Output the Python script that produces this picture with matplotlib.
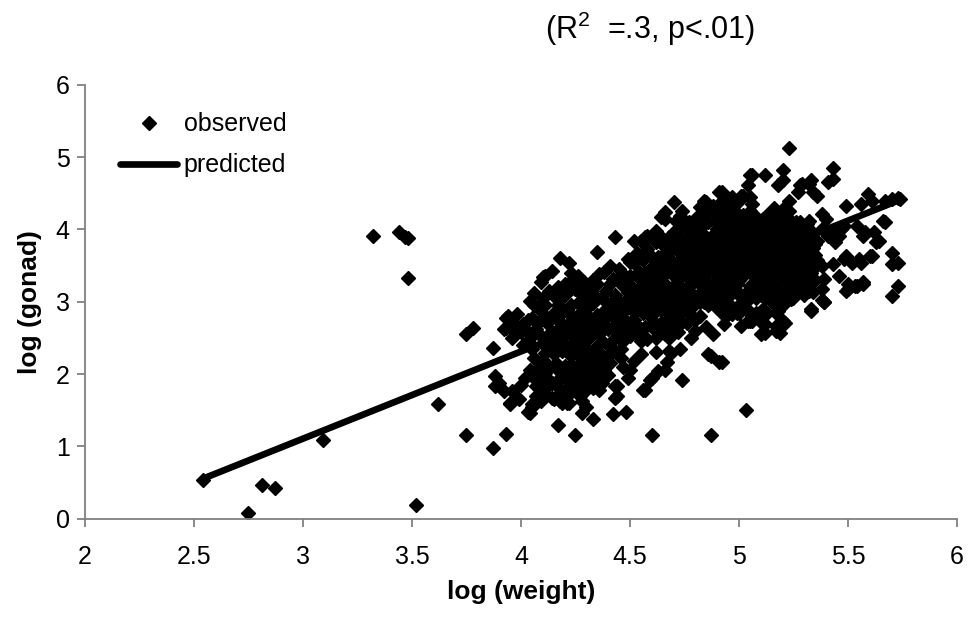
import matplotlib
matplotlib.use("Agg")
import matplotlib.pyplot as plt
import numpy as np

plt.rcParams['font.family'] = ['Liberation Sans', 'DejaVu Sans']
plt.rcParams['mathtext.fontset'] = 'custom'
plt.rcParams['mathtext.rm'] = 'Liberation Sans'

# isolated points (log weight, log gonad)
outliers = [
    (2.54, 0.53), (2.75, 0.08), (2.81, 0.47), (2.87, 0.42), (3.09, 1.09),
    (3.32, 3.91), (3.44, 3.97), (3.47, 3.90), (3.48, 3.88), (3.48, 3.33),
    (3.52, 0.19), (3.62, 1.58), (3.75, 1.16), (3.87, 0.97), (3.93, 1.17),
    (4.17, 1.30), (4.25, 1.16), (4.60, 1.16), (4.87, 1.16), (5.03, 1.50),
    (5.23, 5.13), (5.43, 4.85), (3.75, 2.56), (3.78, 2.63), (3.87, 2.36),
]

# lower band, x 3.9 - 4.9, y 1.4 - 2.4
lower_band = [
    (3.88, 1.97), (3.90, 1.87), (3.92, 1.76), (3.88, 1.84), (3.96, 1.76),
    (3.99, 1.65), (3.95, 1.60), (3.95, 1.58), (4.04, 1.46), (4.05, 1.58),
    (4.04, 2.05), (4.09, 1.92), (4.07, 1.83), (4.07, 1.69), (4.03, 1.48),
    (4.05, 1.55), (4.14, 1.67), (4.19, 1.60), (4.15, 1.65), (4.21, 1.60),
    (4.18, 1.74), (4.17, 2.06), (4.21, 1.92), (4.20, 1.78), (4.26, 1.99),
    (4.31, 1.88), (4.34, 1.97), (4.29, 2.20), (4.32, 2.29), (4.34, 2.18),
    (4.30, 2.32), (4.33, 1.81), (4.35, 1.90), (4.29, 1.92), (4.25, 1.95),
    (4.44, 1.69), (4.44, 1.84), (4.49, 1.95), (4.57, 1.78), (4.60, 1.95),
    (4.63, 2.04), (4.67, 2.16), (4.69, 2.29), (4.73, 2.34), (4.74, 1.92),
    (4.52, 2.18), (4.43, 2.32), (4.34, 2.36), (4.87, 2.25), (4.92, 2.16),
    (4.42, 1.44), (4.48, 1.47), (4.33, 1.38), (4.28, 1.46), (4.43, 1.83),
    (4.43, 1.67), (4.56, 1.78), (4.59, 1.92), (4.66, 2.06), (4.68, 2.32),
    (4.86, 2.27), (4.91, 2.16), (4.33, 1.92), (4.36, 1.78), (4.27, 1.88),
    (4.20, 2.11), (4.22, 1.60), (4.30, 1.55), (4.10, 2.20), (4.13, 2.10),
    (4.23, 2.25), (4.26, 2.12), (4.12, 1.95), (4.16, 1.85), (4.24, 1.80),
    (4.10, 1.75), (4.38, 2.05), (4.40, 2.25), (4.47, 2.10), (4.55, 2.28),
    (4.62, 2.30), (4.00, 1.85), (4.02, 1.95), (4.19, 2.32), (4.28, 2.38),
    (4.08, 2.08), (4.15, 2.28), (4.22, 2.05), (4.27, 1.70), (4.37, 2.15),
    (4.12, 1.82), (4.18, 1.95), (4.24, 2.35), (4.06, 1.95), (4.30, 2.05),
    (4.06, 2.22), (4.09, 1.62), (4.11, 2.02), (4.14, 1.88), (4.16, 2.15),
    (4.18, 1.62), (4.20, 1.98), (4.22, 1.72), (4.23, 2.12), (4.25, 1.85),
    (4.27, 2.25), (4.28, 1.62), (4.30, 1.78), (4.32, 2.12), (4.35, 2.05),
    (4.37, 1.88), (4.40, 1.98), (4.41, 2.15), (4.46, 2.22), (4.50, 2.05),
]

# middle band, x 3.9 - 4.8, y 2.3 - 3.9
mid_band = [
    (3.94, 2.80), (3.97, 2.71), (3.92, 2.62), (4.04, 3.01), (4.08, 2.92),
    (3.93, 2.78), (3.98, 2.83), (4.01, 2.69), (3.93, 2.64), (4.10, 3.34),
    (4.14, 3.43), (4.18, 3.61), (4.22, 3.54), (4.24, 3.27), (4.11, 3.36),
    (4.09, 3.27), (4.23, 3.29), (4.29, 3.27), (4.25, 3.17), (4.32, 3.13),
    (4.38, 3.41), (4.42, 3.31), (4.46, 3.27), (4.50, 3.36), (4.54, 3.41),
    (4.43, 3.89), (4.35, 3.69), (4.49, 3.59), (4.53, 3.68), (4.56, 3.82),
    (4.55, 3.84), (4.58, 3.91), (4.52, 3.84), (4.57, 3.89), (4.52, 3.54),
    (4.58, 3.73), (4.62, 3.82), (4.29, 3.24), (4.46, 3.24), (4.61, 3.50),
    (4.63, 3.36), (4.56, 3.22), (4.49, 3.13), (4.48, 3.03), (4.42, 2.94),
    (4.37, 2.85), (4.32, 2.76), (4.29, 2.66), (4.22, 2.57), (4.18, 2.48),
    (4.13, 2.39), (4.11, 2.29), (3.96, 2.50), (4.00, 2.58), (4.03, 2.45),
    (4.05, 2.78), (4.07, 2.62), (4.09, 2.52), (4.12, 2.70), (4.14, 2.58),
    (4.15, 2.85), (4.17, 2.95), (4.18, 2.72), (4.20, 2.63), (4.21, 2.88),
    (4.24, 2.78), (4.25, 2.45), (4.26, 2.98), (4.27, 2.58), (4.30, 2.90),
    (4.31, 2.50), (4.33, 2.98), (4.34, 2.68), (4.35, 3.05), (4.36, 2.55),
    (4.38, 2.75), (4.39, 3.15), (4.40, 2.62), (4.41, 2.95), (4.43, 3.10),
    (4.44, 2.70), (4.45, 2.50), (4.46, 2.88), (4.47, 3.38), (4.48, 2.62),
    (4.50, 2.98), (4.51, 3.20), (4.52, 2.75), (4.53, 2.55), (4.54, 3.05),
    (4.55, 3.30), (4.56, 2.85), (4.57, 2.65), (4.58, 3.12), (4.59, 3.45),
    (4.60, 2.95), (4.61, 2.72), (4.62, 3.22), (4.63, 3.62), (4.64, 2.88),
    (4.65, 3.05), (4.66, 2.55), (4.66, 3.38), (4.67, 3.70), (4.68, 2.78),
    (4.69, 3.15), (4.70, 2.95), (4.70, 3.48), (4.71, 2.65), (4.72, 3.30),
    (4.73, 2.85), (4.74, 3.60), (4.75, 3.05), (4.76, 2.70), (4.77, 3.20),
    (4.78, 2.92), (4.79, 3.45), (4.80, 2.60), (4.81, 3.10), (4.82, 2.80),
    (4.40, 2.40), (4.30, 2.35), (4.05, 2.35), (4.15, 2.40), (4.02, 2.62),
    (3.97, 2.60), (4.10, 3.05), (4.13, 3.15), (4.19, 3.05), (4.23, 3.40),
    (4.28, 3.10), (4.35, 3.25), (4.45, 3.45), (4.50, 3.55), (4.06, 3.12),
    (4.17, 3.20), (4.20, 2.40), (4.26, 2.68), (4.33, 2.60), (4.39, 2.88),
    (4.47, 2.78), (4.53, 2.88), (4.60, 3.30), (4.64, 3.50), (4.68, 3.05),
    (4.74, 3.40), (4.78, 3.60), (4.11, 2.80), (4.16, 2.60), (4.22, 3.15),
    (4.36, 3.38), (4.41, 3.50), (4.56, 3.58), (4.70, 3.80), (4.75, 3.70),
    (4.01, 2.40), (4.03, 2.75), (4.05, 2.52), (4.06, 2.95), (4.08, 2.70),
    (4.10, 2.42), (4.11, 2.95), (4.13, 2.55), (4.14, 2.80), (4.16, 3.05),
    (4.17, 2.52), (4.19, 2.85), (4.20, 3.25), (4.22, 2.70), (4.23, 2.95),
    (4.25, 2.60), (4.26, 3.35), (4.27, 2.85), (4.29, 2.48), (4.30, 3.00),
    (4.32, 2.62), (4.33, 3.30), (4.35, 2.82), (4.37, 2.45), (4.37, 3.05),
    (4.39, 2.65), (4.41, 3.25), (4.42, 2.80), (4.44, 2.58), (4.45, 3.00),
    (4.47, 2.45), (4.48, 3.20), (4.50, 2.70), (4.51, 2.88), (4.53, 3.15),
    (4.54, 2.62), (4.56, 3.00), (4.57, 3.40), (4.59, 2.80), (4.60, 3.15),
    (4.62, 2.60), (4.63, 3.00), (4.65, 3.25), (4.67, 2.92), (4.69, 2.65),
    (4.71, 3.08), (4.36, 2.30), (4.46, 2.35), (4.55, 2.45), (4.28, 2.78),
    (4.50, 2.52), (4.55, 2.62), (4.58, 2.48), (4.60, 2.82), (4.62, 2.50),
    (4.64, 2.70), (4.66, 2.88), (4.68, 2.50), (4.70, 2.80), (4.72, 2.58),
    (4.74, 2.72), (4.76, 2.95), (4.78, 2.50), (4.43, 2.50), (4.46, 2.62),
    (4.48, 2.90), (4.52, 3.05), (4.55, 3.12), (4.58, 2.95), (4.61, 3.05),
    (4.64, 3.12), (4.67, 3.22), (4.70, 3.35), (4.73, 3.12), (4.76, 3.45),
    (4.78, 3.25),
]

# upper edge of the main cloud
upper_mid = [
    (4.70, 4.38), (4.74, 4.26), (4.66, 4.24), (4.64, 4.17), (4.67, 3.66),
    (4.68, 3.73), (4.70, 3.96), (4.74, 4.05), (4.66, 4.15), (4.77, 4.10),
    (4.81, 4.19), (4.82, 4.31), (4.85, 4.38), (4.84, 4.40), (4.92, 4.52),
    (4.93, 4.35), (4.92, 4.19), (4.96, 4.33), (4.72, 3.85), (4.76, 3.78),
    (4.79, 3.95), (4.71, 4.12), (4.80, 3.70), (4.83, 4.05), (4.85, 3.88),
    (4.88, 4.25), (4.64, 3.90), (4.62, 3.98), (5.00, 4.40), (5.05, 4.45),
    (4.97, 4.45),
]

# dense core around log(weight) ~ 5
core = [
    (4.84, 3.00), (4.86, 3.25), (4.86, 3.55), (4.87, 3.80), (4.88, 3.05),
    (4.89, 3.40), (4.89, 3.65), (4.90, 4.00), (4.91, 2.92), (4.91, 3.20),
    (4.92, 3.50), (4.92, 3.75), (4.93, 4.10), (4.94, 2.80), (4.94, 3.30),
    (4.95, 3.60), (4.95, 3.90), (4.96, 3.10), (4.97, 3.45), (4.97, 3.70),
    (4.98, 4.15), (4.99, 2.85), (4.99, 3.25), (5.00, 3.55), (5.00, 3.85),
    (5.01, 4.05), (5.02, 2.95), (5.02, 3.35), (5.03, 3.65), (5.04, 3.15),
    (5.04, 3.95), (5.05, 4.25), (5.06, 3.50), (5.06, 2.80), (5.07, 3.75),
    (5.08, 3.05), (5.08, 3.30), (5.09, 4.10), (5.10, 3.60), (5.10, 3.90),
    (5.11, 2.90), (5.12, 3.20), (5.12, 3.45), (5.13, 4.20), (5.14, 3.70),
    (5.15, 3.00), (5.15, 3.95), (5.16, 3.35), (5.17, 3.55), (5.18, 4.05),
    (5.18, 3.15), (5.19, 3.80), (5.20, 2.95), (5.21, 3.45), (5.21, 4.15),
    (5.22, 3.65), (5.23, 3.25), (5.24, 3.90), (5.25, 3.05), (5.26, 3.60),
    (5.27, 3.80), (5.28, 4.10), (5.28, 3.40), (5.30, 3.70), (5.31, 3.25),
    (5.32, 3.55), (5.33, 3.85), (5.34, 3.45), (5.35, 3.65), (5.23, 4.25),
    (5.16, 4.30), (5.07, 4.20), (4.98, 4.25), (4.90, 4.28), (4.85, 3.12),
    (4.87, 3.45), (4.88, 3.70), (4.90, 3.30), (4.91, 3.85), (4.93, 3.00),
    (4.93, 3.62), (4.95, 3.20), (4.96, 3.80), (4.97, 4.00), (4.98, 3.35),
    (4.99, 3.60), (5.00, 3.10), (5.01, 3.75), (5.02, 4.20), (5.03, 3.45),
    (5.04, 2.88), (5.05, 3.68), (5.06, 3.95), (5.07, 3.25), (5.08, 3.55),
    (5.09, 3.82), (5.10, 3.10), (5.11, 3.40), (5.12, 3.98), (5.13, 3.62),
    (5.14, 3.28), (5.15, 3.85), (5.16, 3.08), (5.17, 4.12), (5.18, 3.42),
    (5.19, 3.65), (5.20, 3.92), (5.21, 3.15), (5.22, 3.50), (5.23, 3.75),
    (5.24, 3.35), (5.25, 4.00), (5.26, 3.20), (5.27, 3.50), (5.29, 3.95),
    (5.30, 3.10), (5.31, 3.62), (5.33, 3.30), (5.35, 3.80), (4.82, 3.35),
    (4.83, 3.60), (4.81, 3.90), (4.84, 3.78), (4.86, 4.10), (4.89, 4.12),
    (4.94, 4.20), (4.85, 3.48), (4.88, 3.92), (4.90, 3.55), (4.93, 3.85),
    (4.96, 3.40), (4.98, 3.72), (5.00, 3.98), (5.02, 3.55), (5.04, 3.78),
    (5.06, 3.38), (5.08, 3.88), (5.10, 3.48), (5.12, 3.72), (5.14, 4.05),
    (5.16, 3.60), (5.18, 3.88), (5.20, 3.32), (5.22, 4.02), (5.24, 3.62),
    (5.26, 3.90), (5.28, 3.68), (5.30, 3.45), (5.32, 3.78), (4.95, 3.50),
    (5.05, 3.22), (5.15, 3.18), (4.92, 3.10), (5.20, 3.05), (5.10, 4.00),
    (4.62, 3.15), (4.64, 3.42), (4.66, 3.62), (4.68, 3.90), (4.70, 3.22),
    (4.72, 3.55), (4.73, 4.18), (4.76, 3.35), (4.77, 3.92), (4.78, 3.12),
    (4.80, 3.50), (4.81, 4.05), (4.83, 3.22), (4.84, 3.92), (4.86, 2.95),
    (4.87, 3.62), (4.88, 4.32), (4.90, 3.12), (4.91, 3.72), (4.92, 4.40),
    (4.94, 3.52), (4.95, 4.05), (4.96, 2.95), (4.97, 3.58), (4.99, 3.95),
    (5.00, 3.30), (5.01, 2.98), (5.03, 4.12), (5.03, 3.85), (5.05, 3.05),
    (5.06, 4.35), (5.07, 3.62), (5.09, 3.18), (5.09, 3.68), (5.11, 4.15),
    (5.12, 3.05), (5.13, 3.85), (5.14, 3.50), (5.16, 3.98), (5.17, 3.25),
    (5.19, 3.52), (5.19, 4.20), (5.21, 3.78), (5.22, 3.38), (5.23, 3.10),
    (5.24, 4.12), (5.26, 3.72), (5.28, 3.28), (5.30, 4.00), (5.31, 3.50),
    (5.32, 3.15), (5.34, 3.95), (5.35, 3.30), (5.36, 3.58), (4.75, 3.85),
    (4.79, 3.28), (4.82, 4.18), (4.85, 3.70), (4.97, 3.22), (5.01, 3.42),
    (5.13, 3.35), (5.21, 3.62), (5.27, 3.92), (4.94, 3.95), (5.06, 3.15),
    (5.18, 3.72), (4.89, 3.20), (4.99, 4.08), (5.08, 4.02), (5.15, 4.22),
    (4.60, 3.62), (4.61, 3.85), (4.63, 3.25), (4.65, 3.78), (4.67, 3.45),
    (4.69, 3.58), (4.71, 3.92), (4.72, 3.15), (4.73, 3.68), (4.75, 3.50),
    (4.76, 4.00), (4.78, 3.78), (4.79, 3.05), (4.80, 4.12), (4.81, 3.62),
    (4.83, 3.45), (4.84, 3.15), (4.85, 4.22), (4.86, 3.85), (4.88, 3.55),
    (4.89, 3.00), (4.90, 3.78), (4.91, 4.15), (4.92, 3.38), (4.94, 3.72),
    (4.95, 3.08), (4.96, 4.10), (4.97, 3.85), (4.98, 3.52), (4.99, 3.15),
    (5.00, 4.18), (5.01, 3.62), (5.02, 3.82), (5.03, 3.05), (5.04, 3.58),
    (5.05, 3.90), (5.06, 3.62), (5.07, 4.05), (5.08, 3.42), (5.09, 3.95),
    (5.10, 3.25), (5.11, 3.78), (5.12, 3.58), (5.13, 3.12), (5.14, 3.92),
    (5.15, 3.45), (5.16, 3.75), (5.17, 3.92), (5.18, 3.28), (5.19, 4.00),
    (5.20, 3.62), (5.21, 3.30), (5.22, 3.85), (5.23, 3.55), (5.24, 3.20),
    (5.25, 3.78), (5.26, 4.10), (5.27, 3.65), (5.28, 3.90), (5.29, 3.38),
    (5.30, 3.85), (5.31, 4.08), (5.32, 3.65), (5.33, 3.40), (5.34, 3.75),
]

# right-hand side, x 5.0 - 5.75
right_tail = [
    (5.06, 4.75), (5.12, 4.75), (5.20, 4.82), (5.18, 4.61), (5.20, 4.68),
    (5.41, 4.66), (5.43, 4.70), (5.04, 4.61), (5.02, 4.47), (5.05, 4.75),
    (5.01, 4.47), (4.91, 4.52), (5.32, 4.63), (5.28, 4.61), (5.34, 4.52),
    (5.36, 4.47), (5.29, 4.63), (5.33, 4.68), (5.27, 4.52), (5.23, 4.40),
    (5.20, 4.28), (5.59, 4.49), (5.67, 4.40), (5.74, 4.42), (5.61, 4.40),
    (5.70, 4.42), (5.73, 4.44), (5.67, 4.10), (5.49, 4.33), (5.38, 4.21),
    (5.32, 4.12), (5.40, 4.15), (5.62, 3.96), (5.64, 3.84), (5.60, 3.64),
    (5.70, 3.68), (5.73, 3.54), (5.70, 3.52), (5.73, 3.22), (5.70, 3.08),
    (5.48, 3.59), (5.55, 3.59), (5.57, 3.27), (5.53, 3.22), (5.50, 3.17),
    (5.46, 3.36), (5.38, 3.50), (5.43, 3.52), (5.39, 3.31), (5.38, 3.17),
    (5.34, 3.13), (5.38, 3.03), (5.33, 2.90), (5.39, 2.99), (5.44, 3.96),
    (5.48, 4.05), (5.57, 3.91), (5.36, 3.84), (5.31, 3.96), (5.27, 4.01),
    (5.56, 4.35), (5.54, 4.05), (5.58, 3.96), (5.66, 4.12), (5.63, 3.82),
    (5.61, 3.64), (5.56, 3.54), (5.52, 3.54), (5.49, 3.64), (5.44, 3.82),
    (5.41, 3.91), (5.38, 4.00), (5.47, 4.00), (5.46, 3.91), (5.50, 3.24),
    (5.49, 3.15), (5.54, 3.22), (5.57, 3.24), (5.26, 3.31), (5.29, 3.50),
    (5.24, 3.50), (5.26, 3.22), (5.24, 3.04), (5.27, 3.13), (5.29, 3.22),
    (5.31, 3.36), (5.27, 3.41), (5.29, 3.59), (5.25, 3.50),
]

# below the core, y 2.5 - 3.0
lower_right = [
    (4.72, 2.94), (4.77, 2.85), (4.82, 2.99), (4.87, 3.04), (4.91, 2.92),
    (4.94, 2.80), (5.00, 2.85), (5.01, 2.66), (5.06, 2.80), (5.10, 2.76),
    (5.12, 2.57), (5.17, 2.66), (5.19, 2.57), (5.21, 2.71), (5.08, 2.85),
    (5.06, 2.73), (5.12, 2.69), (5.17, 2.85), (5.10, 2.83), (5.33, 2.87),
    (5.39, 2.99), (4.93, 2.69), (4.97, 2.83), (5.13, 2.85), (5.18, 2.87),
    (5.20, 2.73), (5.17, 2.59), (5.10, 2.55), (5.11, 2.69), (5.04, 2.73),
    (4.92, 2.85), (4.89, 2.94), (4.97, 2.90), (5.05, 2.73), (4.80, 2.75),
    (4.85, 2.65), (4.88, 2.55),
]

# regression line, end points
pred_x = [2.54, 5.73]
pred_y = [0.55, 4.40]

observed = outliers + lower_band + mid_band + upper_mid + core + right_tail + lower_right
obs_x = np.array([p[0] for p in observed])
obs_y = np.array([p[1] for p in observed])

fig = plt.figure(figsize=(9.7, 6.23), dpi=100)
ax = fig.add_axes([0.0876, 0.1677, 0.899, 0.6959])

ax.plot(obs_x, obs_y, linestyle='none', marker='D', ms=7.4,
        color='black', mec='black', label='observed')
ax.plot(pred_x, pred_y, color='black', lw=4.8, solid_capstyle='round',
        label='predicted')

ax.set_xlim(2, 6)
ax.set_ylim(0, 6)
ax.set_xticks([2, 2.5, 3, 3.5, 4, 4.5, 5, 5.5, 6])
ax.set_xticklabels(['2', '2.5', '3', '3.5', '4', '4.5', '5', '5.5', '6'])
ax.set_yticks(range(7))

for s in ['top', 'right']:
    ax.spines[s].set_visible(False)
for s in ['left', 'bottom']:
    ax.spines[s].set_color('#808080')
    ax.spines[s].set_linewidth(1.3)
ax.tick_params(axis='both', direction='out', length=6, width=1.3,
               color='#808080', labelsize=18)
ax.tick_params(axis='x', pad=13)
ax.tick_params(axis='y', pad=5)

ax.set_xlabel('log (weight)', fontsize=19, fontweight='bold', labelpad=8)
ax.set_ylabel('log (gonad)', fontsize=19, fontweight='bold', labelpad=10)

leg = ax.legend(loc='upper left', bbox_to_anchor=(0.04, 0.937), frameon=False,
                fontsize=18, handlelength=2.3, handletextpad=0.25,
                labelspacing=0.68, borderpad=0, borderaxespad=0)

fig.text(0.562, 0.953, r'(R$^2$  =.3, p<.01)', fontsize=22, va='center', ha='left')

fig.savefig('out.png', dpi=100)
